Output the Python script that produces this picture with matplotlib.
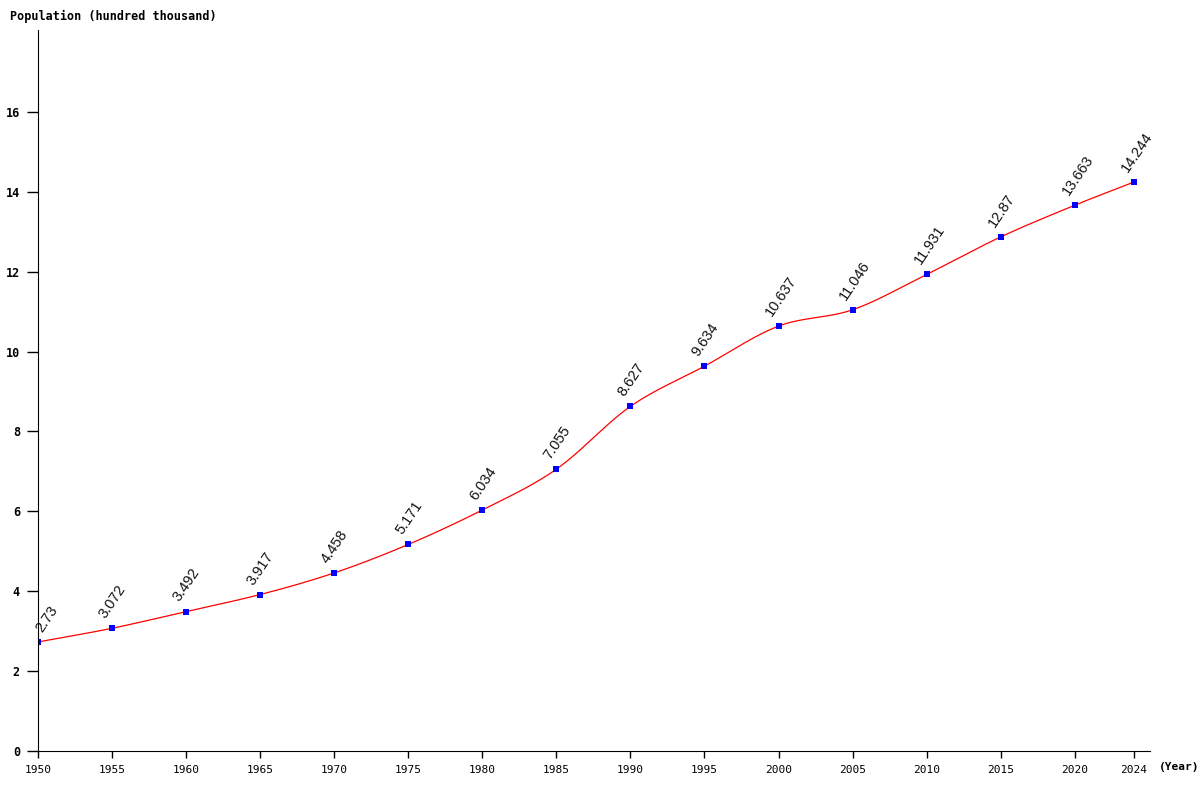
import numpy as np
import matplotlib.pyplot as plt

# Population data (hundred thousand)
years = [1950, 1955, 1960, 1965, 1970, 1975, 1980, 1985, 1990, 1995,
         2000, 2005, 2010, 2015, 2020, 2024]
population = [2.73, 3.072, 3.492, 3.917, 4.458, 5.171, 6.034, 7.055, 8.627, 9.634,
              10.637, 11.046, 11.931, 12.87, 13.663, 14.244]
labels = ['2.73', '3.072', '3.492', '3.917', '4.458', '5.171', '6.034', '7.055',
          '8.627', '9.634', '10.637', '11.046', '11.931', '12.87', '13.663', '14.244']
y_ticks = [0, 2, 4, 6, 8, 10, 12, 14, 16]


def smooth_curve(x, y, n=20):
    # Catmull-Rom spline through the points
    x = np.asarray(x, float)
    y = np.asarray(y, float)
    xs, ys = [], []
    for i in range(len(x) - 1):
        p0 = i - 1 if i > 0 else i
        p3 = i + 2 if i + 2 < len(x) else i + 1
        t = np.linspace(0, 1, n, endpoint=False)
        h = x[i + 1] - x[i]
        m1 = (y[i + 1] - y[p0]) / (x[i + 1] - x[p0]) * h
        m2 = (y[p3] - y[i]) / (x[p3] - x[i]) * h
        h00 = 2 * t**3 - 3 * t**2 + 1
        h10 = t**3 - 2 * t**2 + t
        h01 = -2 * t**3 + 3 * t**2
        h11 = t**3 - t**2
        xs.append(x[i] + t * h)
        ys.append(h00 * y[i] + h10 * m1 + h01 * y[i + 1] + h11 * m2)
    xs.append([x[-1]])
    ys.append([y[-1]])
    return np.concatenate(xs), np.concatenate(ys)


fig = plt.figure(figsize=(12, 8), dpi=100)
ax = fig.add_axes([38 / 1200, 49 / 800, 1112 / 1200, 721 / 800])

cx, cy = smooth_curve(years, population)
ax.plot(cx, cy, color='red', linewidth=0.9)
ax.plot(years, population, linestyle='none', marker='s', markersize=4.5,
        color='blue', markeredgewidth=0)

# value labels, rotated; the first one is nudged right off the axis
for i, (x, y, lab) in enumerate(zip(years, population, labels)):
    dx = 3 if i == 0 else -4.5
    ax.annotate(lab, (x, y), xytext=(dx, 6.5), textcoords='offset points',
                rotation=56, ha='left', va='baseline', rotation_mode='anchor',
                fontsize=10.5, family='Liberation Sans', color='#111111')

ax.set_xlim(1950, 2025.08)
ax.set_ylim(0, 18.05)
ax.set_xticks(years)
ax.set_xticklabels([str(y) for y in years], family='DejaVu Sans Mono', fontsize=8)
ax.set_yticks(y_ticks)
ax.set_yticklabels([str(v) for v in y_ticks], family='DejaVu Sans Mono',
                   fontsize=8.5, fontweight='bold')
ax.tick_params(axis='y', length=8, width=1, pad=5)
ax.tick_params(axis='x', length=5, width=1, pad=5)

for s in ['top', 'right']:
    ax.spines[s].set_visible(False)

fig.text(10 / 1200, 1 - 16 / 800, 'Population (hundred thousand)', family='DejaVu Sans Mono',
         fontsize=8.5, fontweight='bold', va='center', ha='left')
fig.text(1159 / 1200, 1 - 767 / 800, '(Year)', family='DejaVu Sans Mono',
         fontsize=8, fontweight='bold', va='center', ha='left')

fig.savefig('out.png', dpi=100, facecolor='white')
